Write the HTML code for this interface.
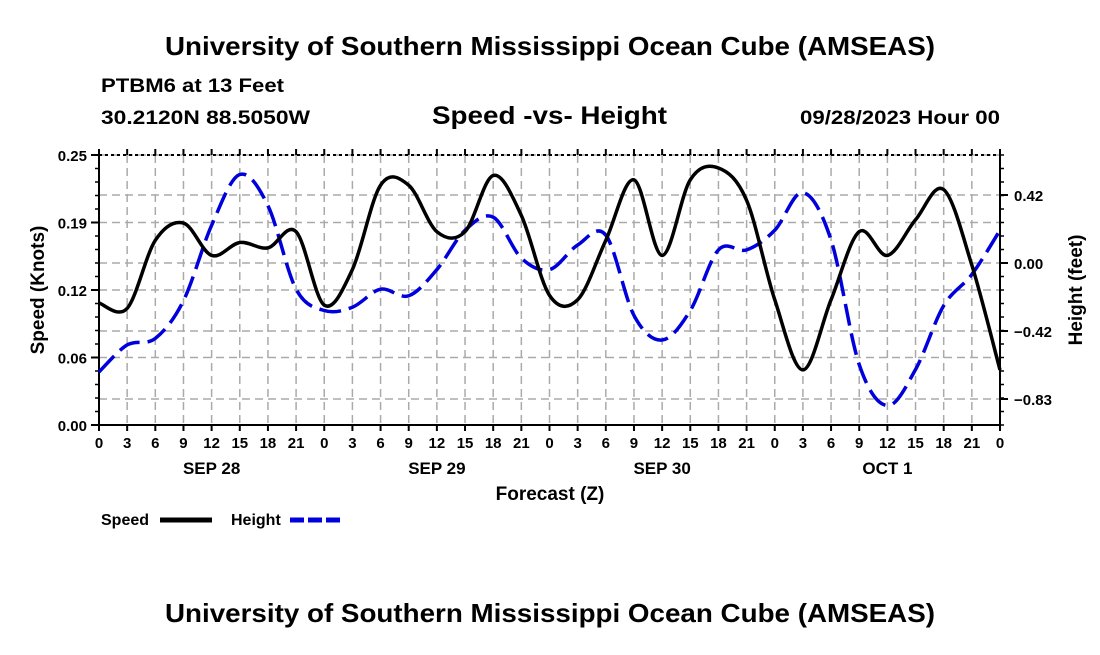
<!DOCTYPE html>
<html><head><meta charset="utf-8"><style>
body{margin:0;background:#fff;width:1100px;height:650px;overflow:hidden}
svg{font-family:"Liberation Sans",sans-serif;font-weight:bold}
</style></head><body>
<svg id="c" width="1100" height="650" xmlns="http://www.w3.org/2000/svg">
<text x="165" y="55" font-size="26" textLength="770" lengthAdjust="spacingAndGlyphs">University of Southern Mississippi Ocean Cube (AMSEAS)</text>
<text x="101" y="92" font-size="19" textLength="183" lengthAdjust="spacingAndGlyphs">PTBM6 at 13 Feet</text>
<text x="101" y="124" font-size="19" textLength="209" lengthAdjust="spacingAndGlyphs">30.2120N  88.5050W</text>
<text x="432" y="124" font-size="25" textLength="235" lengthAdjust="spacingAndGlyphs">Speed -vs- Height</text>
<text x="800" y="124" font-size="19" textLength="200" lengthAdjust="spacingAndGlyphs">09/28/2023 Hour 00</text>
<text x="550" y="500" font-size="19" text-anchor="middle">Forecast (Z)</text>
<text transform="translate(44,290) rotate(-90)" font-size="19" text-anchor="middle">Speed (Knots)</text>
<text transform="translate(1082,290) rotate(-90)" font-size="19" text-anchor="middle">Height (feet)</text>
<g>
<text x="101" y="525" font-size="16">Speed</text>
<line x1="160" y1="520" x2="212" y2="520" stroke="#000" stroke-width="5"/>
<text x="231" y="525" font-size="16">Height</text>
<line x1="290" y1="520" x2="342" y2="520" stroke="#0000dd" stroke-width="5" stroke-dasharray="14,4"/>
</g>
<text x="165" y="622" font-size="26" textLength="770" lengthAdjust="spacingAndGlyphs">University of Southern Mississippi Ocean Cube (AMSEAS)</text>
<g id="plot"></g>
</svg>
<script>
const hours=[0,3,6,9,12,15,18,21,24,27,30,33,36,39,42,45,48,51,54,57,60,63,66,69,72,75,78,81,84,87,90,93,96];
const speed=[0.113,0.108,0.171,0.187,0.157,0.169,0.164,0.179,0.111,0.144,0.222,0.222,0.179,0.179,0.231,0.194,0.120,0.116,0.171,0.227,0.157,0.227,0.238,0.208,0.116,0.051,0.116,0.179,0.157,0.190,0.218,0.148,0.051];
const height=[-0.665,-0.50,-0.46,-0.23,0.23,0.54,0.35,-0.16,-0.29,-0.27,-0.16,-0.20,-0.04,0.20,0.28,0.03,-0.04,0.11,0.17,-0.32,-0.47,-0.29,0.08,0.08,0.20,0.43,0.14,-0.62,-0.87,-0.65,-0.26,-0.07,0.20];
const leftTicks=[0,0.0625,0.125,0.1875,0.25];
const leftLabels=["0.00","0.06","0.12","0.19","0.25"];
const rightTicks=[-0.83,-0.415,0,0.415];
const rightLabels=["\u22120.83","\u22120.42","0.00","0.42"];
const xTickLabels=["0","3","6","9","12","15","18","21"];
const dayLabels=["SEP 28","SEP 29","SEP 30","OCT 1"];
const X0=99,X1=1000,YT=155,YB=425;
const xs=h=>X0+(h/96)*(X1-X0);
const ys=v=>YB-(v/0.25)*(YB-YT);
const yh=v=>263-(v/0.415)*68;
const g=document.getElementById('plot');
const NS="http://www.w3.org/2000/svg";
function mk(t,a){const e=document.createElementNS(NS,t);for(const k in a)e.setAttribute(k,a[k]);g.appendChild(e);return e;}
for(let i=0;i<=32;i++){const x=xs(i*3);
 const l=mk('line',{x1:x,y1:YT,x2:x,y2:YB,stroke:'#aaa','stroke-width':1.5,'stroke-dasharray':'8,5'});
 }
leftTicks.forEach(v=>{const l=mk('line',{x1:X0,y1:ys(v),x2:X1,y2:ys(v),stroke:'#aaa','stroke-width':1.5,'stroke-dasharray':'8,5'});
 });
rightTicks.forEach(v=>{const l=mk('line',{x1:X0,y1:yh(v),x2:X1,y2:yh(v),stroke:'#aaa','stroke-width':1.5,'stroke-dasharray':'8,5'});
 });
let a=mk('line',{x1:X0,y1:YT,x2:X1,y2:YT,stroke:'#000','stroke-width':2,'stroke-dasharray':'3,3'});

a=mk('line',{x1:X0,y1:YB,x2:X1,y2:YB,stroke:'#000','stroke-width':2});

a=mk('line',{x1:X0,y1:YT,x2:X0,y2:YB,stroke:'#000','stroke-width':2});

a=mk('line',{x1:X1,y1:YT,x2:X1,y2:YB,stroke:'#000','stroke-width':2});

for(let i=0;i<=20;i++){const y=YT+i*(YB-YT)/20;mk('line',{x1:X0-4,y1:y,x2:X0,y2:y,stroke:'#000','stroke-width':1.5});mk('line',{x1:X1,y1:y,x2:X1+4,y2:y,stroke:'#000','stroke-width':1.5});}
leftTicks.forEach((v,i)=>{mk('line',{x1:X0-8,y1:ys(v),x2:X0,y2:ys(v),stroke:'#000','stroke-width':2});
 const t=mk('text',{x:X0-12,y:ys(v)+6,'font-size':15,'text-anchor':'end'});t.textContent=leftLabels[i];
 });
rightTicks.forEach((v,i)=>{mk('line',{x1:X1,y1:yh(v),x2:X1+8,y2:yh(v),stroke:'#000','stroke-width':2});
 const t=mk('text',{x:X1+14,y:yh(v)+6,'font-size':15});t.textContent=rightLabels[i];
 });
for(let i=0;i<=32;i++){const x=xs(i*3);
 mk('line',{x1:x,y1:YB,x2:x,y2:YB+6,stroke:'#000','stroke-width':2});
 mk('line',{x1:x,y1:YT-6,x2:x,y2:YT,stroke:'#000','stroke-width':2});
 const t=mk('text',{x:x,y:448,'font-size':15,'text-anchor':'middle'});t.textContent=xTickLabels[i%8];
 }
dayLabels.forEach((d,i)=>{const t=mk('text',{x:xs(i*24+12),y:474,'font-size':17,'text-anchor':'middle'});t.textContent=d;
 });
function smooth(pts){let d=`M${pts[0][0]},${pts[0][1]}`;
 for(let i=0;i<pts.length-1;i++){const p0=pts[i-1]||pts[i],p1=pts[i],p2=pts[i+1],p3=pts[i+2]||p2;
  d+=` C${p1[0]+(p2[0]-p0[0])/6},${p1[1]+(p2[1]-p0[1])/6} ${p2[0]-(p3[0]-p1[0])/6},${p2[1]-(p3[1]-p1[1])/6} ${p2[0]},${p2[1]}`;}
 return d;}
let p=mk('path',{d:smooth(hours.map((h,i)=>[xs(h),yh(height[i])])),fill:'none',stroke:'#0000dd','stroke-width':3.5,'stroke-dasharray':'22,8'});

p=mk('path',{d:smooth(hours.map((h,i)=>[xs(h),ys(speed[i])])),fill:'none',stroke:'#000','stroke-width':3.5});

</script>
</body></html>
